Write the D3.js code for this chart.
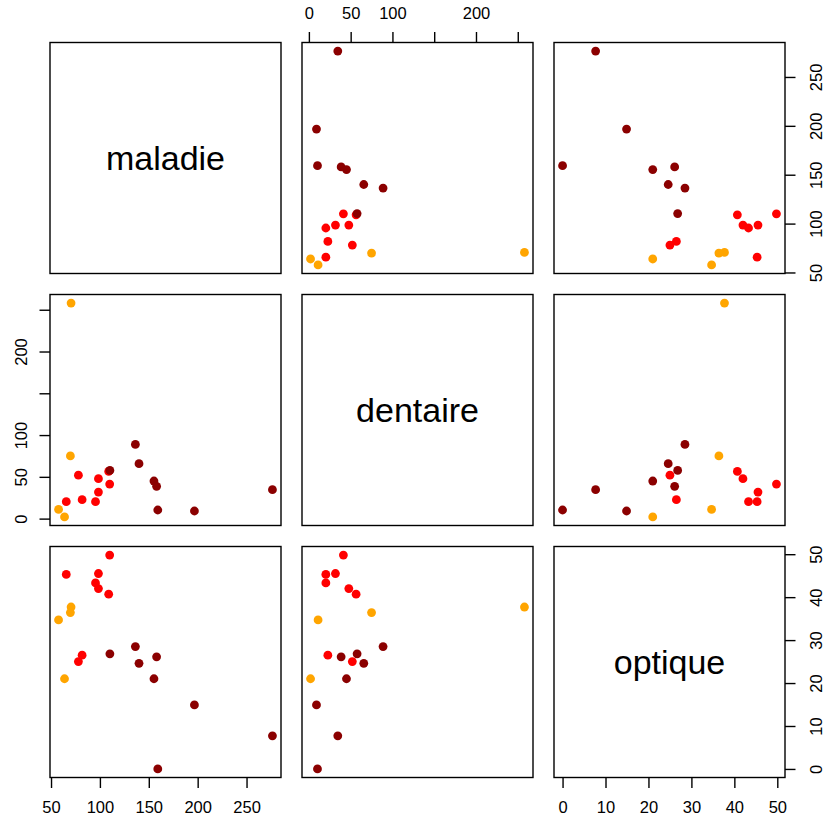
<!DOCTYPE html>
<html>
<head>
<meta charset="utf-8">
<script src="https://cdn.jsdelivr.net/npm/d3@7"></script>
<style>
  body { margin: 0; background: #fff; }
  svg { display: block; font-family: "Liberation Sans", Arial, sans-serif; }
</style>
</head>
<body>
<svg width="828" height="823"></svg>
<script>
// variables of the scatterplot matrix
const variables = ["maladie", "dentaire", "optique"];

const maladie  = [70.5, 69.8, 57.7, 63.8, 78, 65.6, 81.8, 95.5, 98.5, 98.5, 110, 109, 136.3, 140, 155.3, 158, 159.2, 196.7, 276.5, 110.2];
const dentaire = [258, 75, 11, 2, 52, 20.3, 22.7, 20.3, 31.8, 47.8, 41.3, 56.5, 88.8, 65.7, 45, 38.6, 10.3, 9.1, 34.6, 57.7];
const optique  = [37.7, 36.4, 34.7, 21.0, 25.0, 45.3, 26.5, 43.3, 45.5, 42.0, 49.8, 40.7, 28.5, 24.6, 21.0, 26.1, 0, 14.9, 7.7, 26.8];
const groupe   = ["orange", "orange", "orange", "orange",
                  "red", "red", "red", "red", "red", "red", "red", "red",
                  "darkred", "darkred", "darkred", "darkred", "darkred", "darkred", "darkred", "darkred"];

const groupColors = { orange: "#FFA500", red: "#FF0000", darkred: "#8B0000" };

// tick values and which labels get printed (R drops overlapping ones)
const maladieTicks  = [50, 100, 150, 200, 250];
const dentaireTicks = [0, 50, 100, 150, 200, 250];
const dentaireLabels = [0, 50, 100, 200];
const optiqueTicks  = [0, 10, 20, 30, 40, 50];

const columns = { maladie, dentaire, optique };
const ticks = { maladie: maladieTicks, dentaire: dentaireTicks, optique: optiqueTicks };
const shownLabels = { maladie: maladieTicks, dentaire: dentaireLabels, optique: optiqueTicks };

const svg = d3.select("svg");

// layout of the panels
const panelLeft = 50, panelTop = 42.5, size = 231, gap = 21;
const tickLen = 10.5;
const fontSize = 16.5;

function panelX(j) { return panelLeft + j * (size + gap); }
function panelY(i) { return panelTop + i * (size + gap); }

// R-style range: data extent widened by 4% on each side
function extended(values) {
    const [lo, hi] = d3.extent(values);
    const pad = (hi - lo) * 0.04;
    return [lo - pad, hi + pad];
}

const xScales = variables.map((v, j) =>
    d3.scaleLinear().domain(extended(columns[v])).range([panelX(j), panelX(j) + size]));
const yScales = variables.map((v, i) =>
    d3.scaleLinear().domain(extended(columns[v])).range([panelY(i) + size, panelY(i)]));

const fmt = v => d => shownLabels[v].includes(d) ? d : "";

variables.forEach((vy, i) => {
    variables.forEach((vx, j) => {
        const g = svg.append("g");
        if (i === j) {
            g.append("text")
                .attr("x", panelX(j) + size / 2)
                .attr("y", panelY(i) + size / 2)
                .attr("text-anchor", "middle")
                .attr("dominant-baseline", "central")
                .attr("font-size", 34)
                .text(vx);
        } else {
            const xs = xScales[j], ys = yScales[i];
            g.selectAll("circle")
                .data(d3.range(maladie.length))
                .enter()
                .append("circle")
                .attr("cx", k => xs(columns[vx][k]))
                .attr("cy", k => ys(columns[vy][k]))
                .attr("r", 4.4)
                .attr("fill", k => groupColors[groupe[k]]);
        }
        g.append("rect")
            .attr("x", panelX(j))
            .attr("y", panelY(i))
            .attr("width", size)
            .attr("height", size)
            .attr("fill", "none")
            .attr("stroke", "black")
            .attr("stroke-width", 1.4);
    });
});

function styleAxis(sel) {
    sel.select(".domain").remove();
    sel.selectAll(".tick line").attr("stroke", "black").attr("stroke-width", 1.4);
    sel.selectAll(".tick text").attr("fill", "black").attr("font-size", fontSize);
}

const n = variables.length;

// top axes: even columns, first row
variables.forEach((v, j) => {
    if (j % 2 !== 1) return;
    svg.append("g")
        .attr("transform", `translate(0,${panelY(0)})`)
        .call(d3.axisTop(xScales[j]).tickValues(ticks[v]).tickFormat(fmt(v)).tickSize(tickLen).tickPadding(0))
        .call(styleAxis)
        .selectAll(".tick text")
        .attr("y", -29.2)
        .attr("dy", "0.36em");
});

// bottom axes: odd columns, last row
variables.forEach((v, j) => {
    if (j % 2 !== 0) return;
    svg.append("g")
        .attr("transform", `translate(0,${panelY(n - 1) + size})`)
        .call(d3.axisBottom(xScales[j]).tickValues(ticks[v]).tickFormat(fmt(v)).tickSize(tickLen).tickPadding(0))
        .call(styleAxis)
        .selectAll(".tick text")
        .attr("y", 30)
        .attr("dy", "0.36em");
});

// left axes: even rows, first column
variables.forEach((v, i) => {
    if (i % 2 !== 1) return;
    svg.append("g")
        .attr("transform", `translate(${panelX(0)},0)`)
        .call(d3.axisLeft(yScales[i]).tickValues(ticks[v]).tickFormat(fmt(v)).tickSize(tickLen).tickPadding(0))
        .call(styleAxis)
        .selectAll(".tick text")
        .attr("x", 0)
        .attr("dy", "0.36em")
        .attr("text-anchor", "middle")
        .attr("transform", "translate(-29.3,0) rotate(-90)");
});

// right axes: odd rows, last column
variables.forEach((v, i) => {
    if (i % 2 !== 0) return;
    svg.append("g")
        .attr("transform", `translate(${panelX(n - 1) + size},0)`)
        .call(d3.axisRight(yScales[i]).tickValues(ticks[v]).tickFormat(fmt(v)).tickSize(tickLen).tickPadding(0))
        .call(styleAxis)
        .selectAll(".tick text")
        .attr("x", 0)
        .attr("dy", "0.36em")
        .attr("text-anchor", "middle")
        .attr("transform", "translate(31.5,0) rotate(-90)");
});
</script>
</body>
</html>
